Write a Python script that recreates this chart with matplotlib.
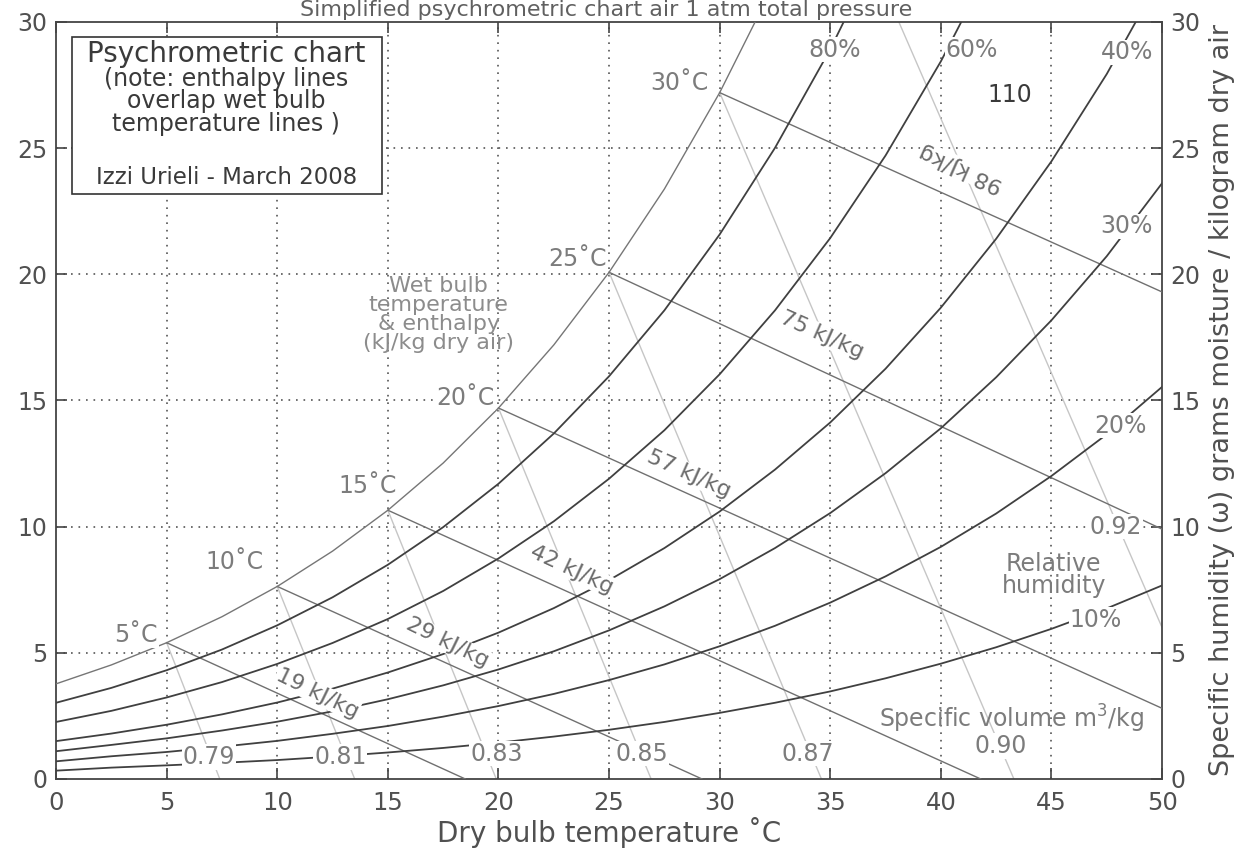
import matplotlib
matplotlib.use('Agg')
import matplotlib.pyplot as plt
from matplotlib.patches import Rectangle

# dry bulb temperatures (deg C) at which the humidity curves were read
t_db = [0, 2.5, 5, 7.5, 10, 12.5, 15, 17.5, 20, 22.5, 25, 27.5, 30, 32.5, 35,
        37.5, 40, 42.5, 45, 47.5, 50]

# specific humidity (g/kg dry air)
w_rh100 = [3.77, 4.52, 5.40, 6.43, 7.63, 9.03, 10.65, 12.52, 14.70, 17.20, 20.08,
           23.38, 27.20, 31.57]
w_rh80 = [3.02, 3.61, 4.31, 5.13, 6.09, 7.20, 8.49, 9.98, 11.70, 13.69, 15.96,
          18.57, 21.58, 25.01, 28.92, 33.39]
w_rh60 = [2.26, 2.70, 3.23, 3.84, 4.56, 5.39, 6.34, 7.45, 8.74, 10.21, 11.90,
          13.82, 16.04, 18.57, 21.44, 24.71, 28.44, 32.68]
w_rh40 = [1.50, 1.80, 2.15, 2.56, 3.03, 3.58, 4.22, 4.95, 5.80, 6.77, 7.88,
          9.15, 10.60, 12.26, 14.13, 16.26, 18.68, 21.41, 24.48, 27.94, 31.88]
w_rh30 = [1.10, 1.35, 1.61, 1.92, 2.27, 2.68, 3.16, 3.71, 4.34, 5.06, 5.89,
          6.84, 7.92, 9.15, 10.54, 12.12, 13.90, 15.92, 18.18, 20.72, 23.61]
w_rh20 = [0.70, 0.90, 1.07, 1.28, 1.51, 1.79, 2.10, 2.47, 2.89, 3.37, 3.92,
          4.54, 5.26, 6.07, 6.99, 8.03, 9.20, 10.52, 12.01, 13.66, 15.54]
w_rh10 = [0.33, 0.45, 0.54, 0.64, 0.75, 0.89, 1.05, 1.23, 1.44, 1.68, 1.95,
          2.26, 2.62, 3.02, 3.47, 3.99, 4.57, 5.22, 5.95, 6.76, 7.67]
rh_curves = [w_rh80, w_rh60, w_rh40, w_rh30, w_rh20, w_rh10]

rh_labels = ['80%', '60%', '40%', '30%', '20%', '10%']
rh_label_x = [35.2, 41.4, 48.4, 48.4, 48.1, 47.0]
rh_label_y = [28.9, 28.9, 28.8, 21.9, 14.0, 6.3]

# wet bulb / enthalpy lines: from the saturation curve down to the chart edge
wb_labels = ['5˚C', '10˚C', '15˚C', '20˚C', '25˚C', '30˚C']
wb_t0 = [5, 10, 15, 20, 25, 30]
wb_w0 = [5.40, 7.63, 10.65, 14.70, 20.08, 27.20]
wb_t1 = [18.5, 29.2, 41.8, 50, 50, 50]
wb_w1 = [0, 0, 0, 2.8, 9.9, 19.3]
wb_label_x = [4.6, 9.4, 15.4, 19.8, 24.9, 29.5]
wb_label_y = [5.7, 8.6, 11.6, 15.1, 20.6, 27.6]

h_labels = ['19 kJ/kg', '29 kJ/kg', '42 kJ/kg', '57 kJ/kg', '75 kJ/kg', '98 kJ/kg']
h_label_x = [11.8, 17.7, 23.3, 28.6, 34.6, 40.9]
h_label_y = [3.4, 5.4, 8.3, 12.1, 17.6, 24.2]
h_rot = [-26, -26, -25, -24, -24, 156]

# specific volume lines (m3/kg)
sv_labels = ['0.79', '0.81', '0.83', '0.85', '0.87', '0.90', '0.92']
sv_t0 = [5, 10, 15, 20, 25, 30, 38.1]
sv_w0 = [5.40, 7.63, 10.65, 14.70, 20.08, 27.20, 30.0]
sv_t1 = [7.4, 13.5, 19.9, 26.9, 34.6, 43.3, 50]
sv_w1 = [0, 0, 0, 0, 0, 0, 6.0]
sv_label_x = [6.9, 12.85, 19.9, 26.5, 34.0, 42.7, 47.9]
sv_label_y = [0.87, 0.87, 1.0, 1.0, 1.0, 1.3, 10.0]

x_ticks = list(range(0, 51, 5))
y_ticks = list(range(0, 31, 5))

txt_grey = '#7c7c7c'
dark = '#3a3a3a'

fig = plt.figure(figsize=(12.57, 8.58), dpi=100)
ax = fig.add_axes([0.0446, 0.0921, 0.8799, 0.8823])

# grid
for x in x_ticks[1:-1]:
    ax.plot([x, x], [0, 30], color='#555555', lw=1.2, ls=(0, (1, 3.5)), zorder=1)
for y in y_ticks[1:-1]:
    ax.plot([0, 50], [y, y], color='#555555', lw=1.2, ls=(0, (1, 3.5)), zorder=1)

# specific volume lines
for i in range(len(sv_labels)):
    ax.plot([sv_t0[i], sv_t1[i]], [sv_w0[i], sv_w1[i]], color='#c6c6c6', lw=1.0, zorder=2)

# wet bulb lines
for i in range(len(wb_labels)):
    ax.plot([wb_t0[i], wb_t1[i]], [wb_w0[i], wb_w1[i]], color='#707070', lw=1.0, zorder=3)

# saturation curve and relative humidity curves
ax.plot(t_db[:len(w_rh100)], w_rh100, color='#767676', lw=1.0, zorder=3)
for w in rh_curves:
    ax.plot(t_db[:len(w)], w, color='#404040', lw=1.3, zorder=4)

lbl_box = dict(facecolor='white', edgecolor='none', pad=0.5)

for i in range(len(rh_labels)):
    ax.text(rh_label_x[i], rh_label_y[i], rh_labels[i], color=txt_grey, fontsize=17,
            ha='center', va='center', bbox=lbl_box, zorder=6)
for i in range(len(wb_labels)):
    ax.text(wb_label_x[i], wb_label_y[i], wb_labels[i], color=txt_grey, fontsize=17,
            ha='right', va='center', bbox=lbl_box, zorder=6)
for i in range(len(h_labels)):
    ax.text(h_label_x[i], h_label_y[i], h_labels[i], color='#6a6a6a', fontsize=16,
            ha='center', va='center', rotation=h_rot[i], rotation_mode='anchor',
            bbox=lbl_box, zorder=6)
for i in range(len(sv_labels)):
    ax.text(sv_label_x[i], sv_label_y[i], sv_labels[i], color=txt_grey, fontsize=17,
            ha='center', va='center', bbox=lbl_box, zorder=6)

ax.text(43.1, 27.1, '110', color=dark, fontsize=17, ha='center', va='center', zorder=6)
ax.text(17.3, 18.4, 'Wet bulb\ntemperature\n& enthalpy\n(kJ/kg dry air)', color='#8c8c8c',
        fontsize=16, ha='center', va='center', linespacing=0.95, zorder=6)
ax.text(45.1, 8.1, 'Relative\nhumidity', color=txt_grey, fontsize=17,
        ha='center', va='center', linespacing=0.9, zorder=6)
ax.text(43.2, 2.4, 'Specific volume m$^3$/kg', color=txt_grey, fontsize=17,
        ha='center', va='center', zorder=6)

# note box in the upper left corner
ax.add_patch(Rectangle((0.72, 23.2), 14.0, 6.2, facecolor='white', edgecolor='#333333',
                       lw=1.2, zorder=7))
ax.text(7.7, 28.72, 'Psychrometric chart', color=dark, fontsize=20, ha='center',
        va='center', zorder=8)
ax.text(7.7, 27.75, '(note: enthalpy lines', color=dark, fontsize=17, ha='center',
        va='center', zorder=8)
ax.text(7.7, 26.85, 'overlap wet bulb', color=dark, fontsize=17, ha='center',
        va='center', zorder=8)
ax.text(7.7, 25.95, 'temperature lines )', color=dark, fontsize=17, ha='center',
        va='center', zorder=8)
ax.text(7.7, 23.85, 'Izzi Urieli - March 2008', color=dark, fontsize=16.5, ha='center',
        va='center', zorder=8)

ax.set_xlim(0, 50)
ax.set_ylim(0, 30)
ax.set_xticks(x_ticks)
ax.set_yticks(y_ticks)
ax.tick_params(direction='in', length=8, width=1.2, colors='#444444', labelsize=17.5,
               top=True, right=True, labelright=True, labelcolor='#505050', pad=6)
ax.tick_params(axis='x', pad=9)
ax.tick_params(axis='y', labelsize=17)
for s in ax.spines.values():
    s.set_color('#444444')
    s.set_linewidth(1.3)

ax.set_xlabel('Dry bulb temperature ˚C', fontsize=20, color='#505050', labelpad=1)
ax.yaxis.set_label_position('right')
ax.set_ylabel('Specific humidity (ω) grams moisture / kilogram dry air', fontsize=19.5,
              color='#505050', labelpad=6)

fig.text(0.4825, 0.9815, 'Simplified psychrometric chart air 1 atm total pressure',
         fontsize=16, color='#606060', ha='center', va='baseline')

fig.savefig('out.png', dpi=100)
